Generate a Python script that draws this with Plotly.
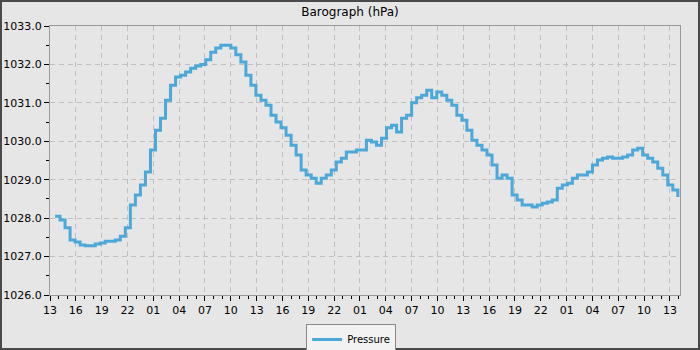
import plotly.graph_objects as go
import pandas as pd

start_time = "2024-03-10 13:35"
interval_min = 35
pressure = [
    1028.05, 1027.95, 1027.75, 1027.43, 1027.38, 1027.30, 1027.28, 1027.28, 1027.33, 1027.35,
    1027.40, 1027.40, 1027.43, 1027.53, 1027.75, 1028.34, 1028.60, 1028.86, 1029.20, 1029.77,
    1030.29, 1030.60, 1031.07, 1031.46, 1031.67, 1031.72, 1031.80, 1031.90, 1031.96, 1032.00,
    1032.12, 1032.32, 1032.43, 1032.50, 1032.50, 1032.43, 1032.25, 1032.06, 1031.72, 1031.46,
    1031.20, 1031.07, 1030.94, 1030.68, 1030.50, 1030.35, 1030.16, 1029.90, 1029.64, 1029.25,
    1029.12, 1029.04, 1028.91, 1029.04, 1029.12, 1029.25, 1029.46, 1029.56, 1029.72, 1029.72,
    1029.77, 1029.77, 1030.03, 1029.98, 1029.90, 1030.08, 1030.35, 1030.42, 1030.24, 1030.60,
    1030.68, 1031.00, 1031.13, 1031.20, 1031.33, 1031.13, 1031.28, 1031.20, 1031.07, 1030.94,
    1030.68, 1030.55, 1030.29, 1030.03, 1029.90, 1029.77, 1029.64, 1029.38, 1029.04, 1029.12,
    1029.04, 1028.60, 1028.47, 1028.34, 1028.34, 1028.29, 1028.34, 1028.39, 1028.42, 1028.47,
    1028.78, 1028.86, 1028.91, 1029.04, 1029.12, 1029.12, 1029.20, 1029.38, 1029.51, 1029.56,
    1029.59, 1029.56, 1029.56, 1029.59, 1029.64, 1029.77, 1029.82, 1029.64, 1029.56, 1029.46,
    1029.30, 1029.12, 1028.86, 1028.73, 1028.55,
]
times = pd.date_range(start=start_time, periods=len(pressure), freq=f"{interval_min}min")

x_start = "2024-03-10 13:00"
x_end = "2024-03-13 14:10"
y_range = [1026.0, 1033.0]

W, H = 700, 350
ml, mr, mt, mb = 50, 20, 26, 55
pw, ph = W - ml - mr, H - mt - mb

fig = go.Figure()
fig.add_trace(go.Scatter(
    x=times, y=pressure, mode="lines", name="Pressure",
    line=dict(color="#4ba8d8", width=3, shape="hv"),
))

fig.update_layout(
    width=W, height=H,
    margin=dict(l=ml, r=mr, t=mt, b=mb, autoexpand=False),
    paper_bgcolor="#e6e6e6", plot_bgcolor="#e6e6e6",
    font=dict(family="DejaVu Sans", size=11, color="#000000"),
    title=dict(text="Barograph (hPa)", x=0.5, xanchor="center", y=0.965, yanchor="middle",
               font=dict(size=12, family="DejaVu Sans")),
    showlegend=True,
    legend=dict(orientation="h", x=0.478, xanchor="center", y=-0.108, yanchor="top",
                bgcolor="#f2f2f2", bordercolor="#888888", borderwidth=1,
                font=dict(size=10), itemwidth=30, tracegroupgap=0),
    shapes=[dict(type="rect", xref="paper", yref="paper",
                 x0=-ml / pw, x1=1 + mr / pw, y0=-mb / ph, y1=1 + mt / ph,
                 line=dict(color="#4a4a4a", width=4), layer="above")],
)

fig.update_xaxes(
    type="date", range=[x_start, x_end], automargin=False,
    tick0="2024-03-10 13:00", dtick=3 * 3600000, tickformat="%H",
    showline=True, linecolor="#999999", linewidth=1, mirror=True,
    ticks="outside", ticklen=5, tickcolor="#000000",
    showgrid=True, gridcolor="#c0c0c0", griddash="5px,4px", gridwidth=1,
    zeroline=False,
    minor=dict(dtick=3600000, tick0="2024-03-10 13:00", ticks="outside", ticklen=3,
               tickcolor="#000000", showgrid=False),
    tickfont=dict(size=11),
)
fig.update_yaxes(
    range=y_range, dtick=1, tick0=1026, tickformat=".1f", automargin=False,
    showline=True, linecolor="#999999", linewidth=1, mirror=True,
    ticks="outside", ticklen=5, tickcolor="#000000",
    showgrid=True, gridcolor="#c0c0c0", griddash="5px,4px", gridwidth=1,
    zeroline=False,
    minor=dict(dtick=0.5, ticks="outside", ticklen=3, tickcolor="#000000", showgrid=False),
    tickfont=dict(size=11),
)

fig.write_html("out.html")
